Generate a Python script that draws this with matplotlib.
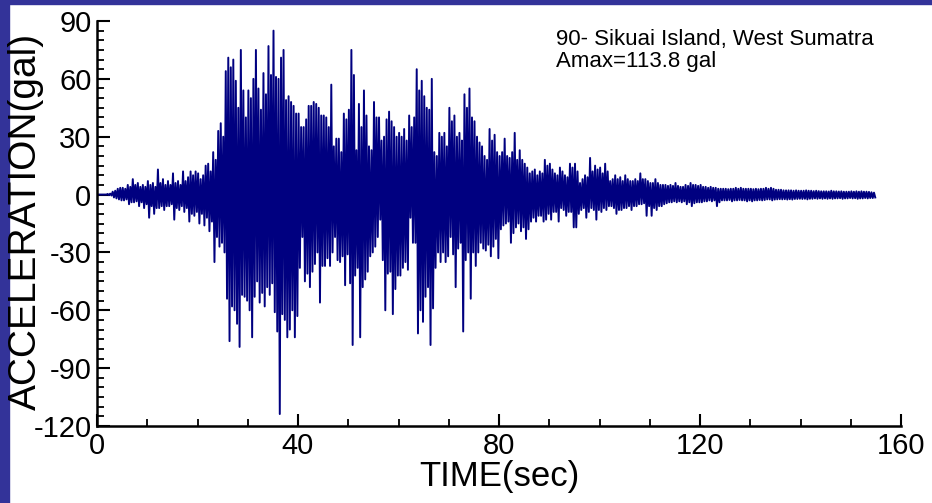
import numpy as np
import matplotlib
matplotlib.use('Agg')
import matplotlib.pyplot as plt
from matplotlib.ticker import MultipleLocator
from matplotlib.patches import Rectangle

plt.rcParams['font.family'] = ['Liberation Sans', 'DejaVu Sans']
plt.rcParams['axes.unicode_minus'] = False

# accelerogram peaks, one positive and one negative extreme per half second (gal)
step = 0.5
peak_hi = [
    0, 0, 0, 0, 0.3, 0.5, 1.5, 2, 3, 3.5,
    3.5, 3, 5, 4, 8, 5, 6, 4, 5, 4,
    7, 5, 6, 4, 13, 6, 8, 5, 7, 5,
    11, 6, 7, 5, 12, 7, 9, 12, 10, 12,
    11, 8, 10, 15, 16, 12, 22, 18, 33, 37,
    30, 64, 71, 66, 70, 59, 45, 75, 54, 40,
    54, 50, 60, 75, 55, 44, 63, 52, 77, 62,
    85, 61, 60, 71, 75, 49, 51, 48, 46, 42,
    42, 35, 35, 39, 46, 46, 48, 47, 45, 41,
    41, 40, 35, 57, 25, 29, 29, 22, 42, 39,
    44, 75, 62, 23, 47, 35, 54, 41, 25, 23,
    48, 40, 40, 28, 30, 39, 43, 38, 35, 30,
    32, 30, 34, 28, 41, 35, 40, 65, 54, 59,
    51, 45, 44, 60, 22, 20, 32, 30, 32, 25,
    45, 38, 41, 30, 32, 28, 52, 45, 55, 40,
    38, 30, 27, 25, 20, 18, 34, 28, 31, 22,
    20, 22, 29, 20, 19, 22, 32, 18, 23, 18,
    16, 14, 11, 12, 13, 10, 12, 11, 18, 15,
    16, 13, 11, 10, 14, 12, 10, 9, 16, 14,
    16, 12, 6, 8, 10, 9, 19, 12, 15, 13,
    14, 11, 16, 12, 7, 8, 10, 8, 9, 7,
    10, 8, 7, 7, 8, 7, 11, 8, 8, 7,
    6, 6, 8, 6, 5, 5, 5, 4.5, 5, 4.5,
    6, 4.5, 4, 4, 5, 4.5, 6, 5, 5, 4.5,
    5, 4, 4, 3.5, 4, 3.5, 3.5, 3, 3, 3,
    3, 2.8, 3, 3, 3.5, 3, 3.5, 3, 3, 3,
    3, 2.8, 3, 2.8, 3, 3, 3.5, 3, 3.5, 3,
    2.5, 2.5, 2.5, 2.2, 2.2, 2.2, 2.2, 2, 2.2, 2,
    2, 2, 2.2, 2, 2, 1.8, 2, 1.8, 1.7, 1.7,
    1.7, 1.6, 2, 1.7, 1.7, 1.6, 1.7, 1.5, 1.5, 1.5,
    1.7, 1.5, 1.7, 1.5, 1.7, 1.5, 1.5, 1.4, 1.2, 1.0,
]
peak_lo = [
    0, 0, 0, 0, -0.3, -0.5, -1.5, -2, -2.5, -3,
    -3, -2.5, -5, -4, -4, -3.5, -6, -4, -7, -5,
    -12, -6, -10, -7, -7, -6, -8, -6, -6, -5,
    -13, -7, -8, -6, -9, -7, -14, -10, -11, -9,
    -15, -10, -16, -12, -19, -14, -35, -22, -27, -25,
    -30, -54, -76, -58, -60, -67, -79, -52, -53, -55,
    -60, -74, -53, -45, -56, -51, -58, -48, -52, -46,
    -61, -71, -113.8, -62, -65, -74, -70, -60, -74, -63,
    -38, -22, -45, -41, -48, -40, -36, -30, -56, -37,
    -37, -33, -37, -30, -22, -34, -35, -32, -47, -31,
    -46, -78, -42, -38, -74, -48, -44, -40, -32, -30,
    -27, -22, -13, -34, -60, -41, -40, -62, -49, -42,
    -42, -38, -35, -39, -12, -25, -25, -72, -60, -66,
    -53, -48, -78, -59, -38, -30, -35, -30, -35, -32,
    -22, -31, -48, -28, -25, -71, -34, -30, -54, -30,
    -37, -30, -25, -28, -29, -26, -32, -27, -23, -33,
    -18, -16, -15, -14, -25, -20, -17, -15, -19, -17,
    -23, -18, -14, -12, -14, -11, -11, -14, -13, -10,
    -13, -9, -9, -14, -7, -8, -11, -9, -9, -17,
    -17, -10, -8, -7, -12, -9, -7, -8, -13, -8,
    -9, -7, -8, -6, -6, -7, -10, -8, -8, -7,
    -7, -6, -8, -6, -6, -5, -5, -4.5, -11, -6,
    -11, -7, -8, -6, -6, -5, -4.5, -4, -4, -3.5,
    -4, -3.5, -4, -3.5, -5, -4, -6, -4.5, -4, -4,
    -4, -3.5, -3.5, -3, -3.5, -3, -6, -4, -3, -3,
    -3, -2.8, -3.5, -3, -3, -2.8, -3, -3, -3.5, -3,
    -3.5, -3, -3, -2.8, -3, -2.8, -2.5, -2.5, -3, -2.6,
    -2.5, -2.4, -2.5, -2.4, -2.6, -2.4, -2.6, -2.3, -2.3, -2.2,
    -2.3, -2.2, -2.5, -2.2, -2.2, -2, -2.2, -2, -2.2, -2,
    -2.2, -2, -2.2, -2, -2, -1.9, -2.2, -2, -2, -1.8,
    -2, -1.9, -2.2, -2, -2, -1.8, -2, -1.8, -1.8, -1.5,
]

station = '90- Sikuai Island, West Sumatra'
amax_text = 'Amax=113.8 gal'

# interleave the extremes: high early in each bin, low late
n = len(peak_hi)
t0 = np.arange(n) * step
t = np.empty(2 * n)
acc = np.empty(2 * n)
t[0::2] = t0 + step * 0.25
t[1::2] = t0 + step * 0.75
acc[0::2] = peak_hi
acc[1::2] = peak_lo
t = np.concatenate([[0.0], t])
acc = np.concatenate([[0.0], acc])

fig = plt.figure(figsize=(9.32, 5.03), dpi=100)
fig.patch.set_facecolor('white')
fig.add_artist(Rectangle((0, 0), 9 / 932, 1, transform=fig.transFigure,
                         color='#333399', zorder=0))
fig.add_artist(Rectangle((0, 1 - 3.5 / 503), 1, 3.5 / 503, transform=fig.transFigure,
                         color='#333399', zorder=0))

ax = fig.add_axes([97 / 932, 1 - 426 / 503, 804 / 932, 405 / 503])
ax.plot(t, acc, color='#000080', lw=1.4)

ax.set_xlim(0, 160)
ax.set_ylim(-120, 90)
ax.xaxis.set_major_locator(MultipleLocator(40))
ax.xaxis.set_minor_locator(MultipleLocator(10))
ax.yaxis.set_major_locator(MultipleLocator(30))
ax.yaxis.set_minor_locator(MultipleLocator(5))

for s in ['top', 'right']:
    ax.spines[s].set_visible(False)
for s in ['left', 'bottom']:
    ax.spines[s].set_linewidth(1.8)
    ax.spines[s].set_color('black')

ax.tick_params(which='major', direction='in', length=9, width=1.5, labelsize=21, pad=4)
ax.tick_params(which='minor', direction='in', length=5, width=1.3)

ax.set_xlabel('TIME(sec)', fontsize=25, labelpad=0)
ax.set_ylabel('ACCELERATION(gal)', fontsize=28)
ax.yaxis.set_label_coords(-0.066, 0.504)

ax.text(0.571, 0.955, station, transform=ax.transAxes, fontsize=16,
        ha='left', va='center')
ax.text(0.571, 0.90, amax_text, transform=ax.transAxes, fontsize=16,
        ha='left', va='center')

fig.savefig('out.png', dpi=100, facecolor=fig.get_facecolor())
